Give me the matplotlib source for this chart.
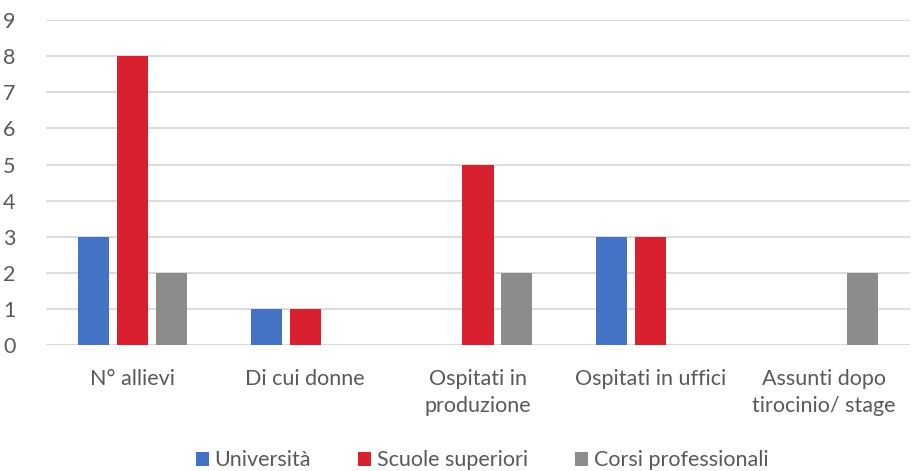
import matplotlib.pyplot as plt
import numpy as np

categorie = ["N° allievi", "Di cui donne", "Ospitati in\nproduzione",
             "Ospitati in uffici", "Assunti dopo\ntirocinio/ stage"]
universita = [3, 1, 0, 3, 0]
scuole_superiori = [8, 1, 5, 3, 0]
corsi_professionali = [2, 0, 2, 0, 2]

serie = [
    ("Università", universita, "#4472C4"),
    ("Scuole superiori", scuole_superiori, "#D9202F"),
    ("Corsi professionali", corsi_professionali, "#8C8C8C"),
]

plt.rcParams['font.family'] = ['Lato', 'DejaVu Sans']
testo = "#595959"
dim = 15.5

fig = plt.figure(figsize=(9.15, 4.71), dpi=100)
ax = fig.add_axes([0.0503, 0.2669, 0.9442, 0.6906])

x = np.arange(len(categorie))
larghezza = 0.18
passo = 0.225
for i, (nome, valori, colore) in enumerate(serie):
    ax.bar(x + (i - 1) * passo, valori, larghezza, color=colore, label=nome,
           zorder=3)

ax.set_xlim(-0.5, len(categorie) - 0.5)
ax.set_ylim(0, 9)
ax.set_yticks(range(0, 10))
ax.set_xticks(x)
ax.set_xticklabels(categorie, linespacing=1.45)
ax.yaxis.grid(True, color="#D9D9D9", linewidth=1.3, zorder=0)
for s in ax.spines.values():
    s.set_visible(False)
ax.tick_params(axis='y', length=0, pad=22, labelsize=dim, labelcolor=testo)
ax.tick_params(axis='x', length=0, pad=17, labelsize=dim, labelcolor=testo)
ax.axhline(0, color="#D9D9D9", linewidth=1.3, zorder=2)

fig.legend(loc='lower center', bbox_to_anchor=(0.527, -0.04), ncol=3,
           frameon=False, handlelength=0.6, handleheight=0.6,
           handletextpad=0.25, columnspacing=2.2,
           prop={'size': dim}, labelcolor=testo)

fig.savefig("out.png", dpi=100)
